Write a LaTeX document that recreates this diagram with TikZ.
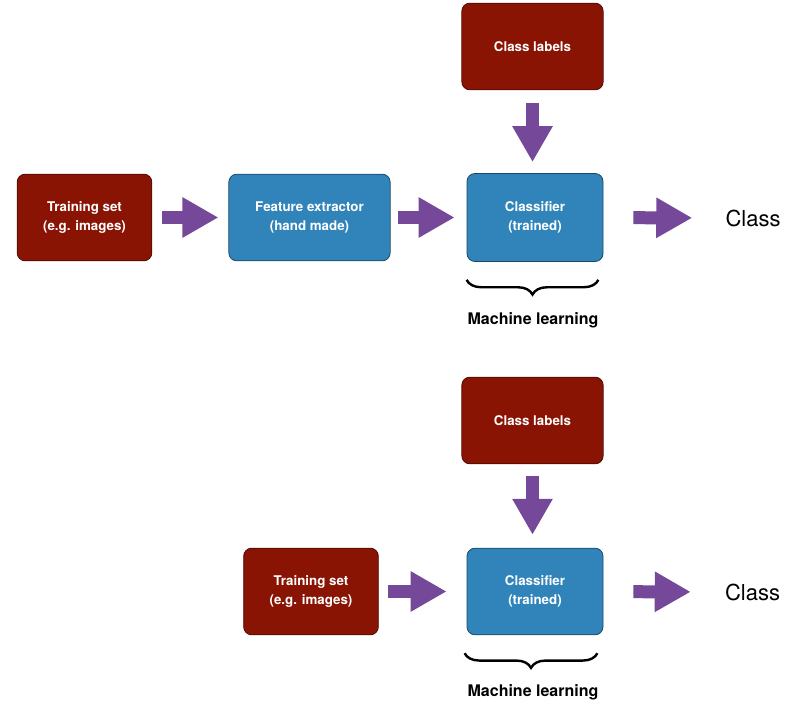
\documentclass[tikz,border=0pt]{standalone}
\usepackage{fontspec}
\setmainfont{TeX Gyre Heros}
\usepackage{xcolor}
\usepackage{tikz}
\usetikzlibrary{arrows.meta,decorations.pathreplacing}

\definecolor{boxred}{RGB}{138,20,4}
\definecolor{boxblue}{RGB}{48,132,186}
\definecolor{arrowpurple}{RGB}{117,72,153}

\begin{document}
\begin{tikzpicture}[
    x=0.75pt, y=-0.75pt,
    font=\fontsize{10}{14}\selectfont\bfseries,
    block/.style={draw=#1!55!black, rounded corners=6pt, fill=#1, text=white, align=center, minimum height=65pt, line width=0.6pt},
    block/.default=boxred,
    fatarrow/.style={draw=arrowpurple, line width=9.75pt, -{Triangle[width=28.5pt, length=27pt, fill=arrowpurple]}},
    mlbrace/.style={decorate, decoration={brace, mirror, amplitude=11pt}, line width=1.8pt},
    outlabel/.style={font=\fontsize{16.5}{19}\selectfont, inner sep=0pt},
    mllabel/.style={font=\fontsize{12}{14}\selectfont\bfseries}
  ]
    \useasboundingbox (0,0) rectangle (793,702);

    % pipeline with a hand made feature extractor
    \node[block, minimum width=101pt] (train1) at (84.5,217.5) {Training set\\(e.g. images)};
    \node[block=boxblue, minimum width=121pt] (feat1) at (309.5,217.5) {Feature extractor\\(hand made)};
    \node[block=boxblue, minimum width=102pt, minimum height=66pt] (clf1) at (535,217.5) {Classifier\\(trained)};
    \node[block, minimum width=106pt] (lab1) at (532.5,46.5) {Class labels};
    \node[outlabel] (cls1) at (753,218) {Class};
    \node[mllabel] (ml1) at (533,320) {Machine learning};

    \draw[fatarrow, shorten <=7.5pt, shorten >=7.5pt] (train1) -- (feat1);
    \draw[fatarrow, shorten <=5.5pt, shorten >=9pt] (feat1) -- (clf1);
    \draw[fatarrow, shorten <=9.75pt, shorten >=8.25pt] (lab1.south) -- (lab1.south |- clf1.north);
    \draw[fatarrow, shorten <=22.5pt, shorten >=24.75pt] (clf1) -- (cls1);
    \draw[mlbrace] ([yshift=-13.5pt]clf1.south west) -- ([xshift=-3.75pt, yshift=-13.5pt]clf1.south east);

    % pipeline where the classifier gets the images directly
    \node[block, minimum width=101pt] (train2) at (311,591.5) {Training set\\(e.g. images)};
    \node[block=boxblue, minimum width=102pt] (clf2) at (535,591.5) {Classifier\\(trained)};
    \node[block, minimum width=106pt] (lab2) at (532.5,420.5) {Class labels};
    \node[outlabel] (cls2) at (752.5,592) {Class};
    \node[mllabel] (ml2) at (533,692) {Machine learning};

    \draw[fatarrow, shorten <=6.75pt, shorten >=15pt] (train2) -- (clf2);
    \draw[fatarrow, shorten <=9pt, shorten >=9.75pt] (lab2.south) -- (lab2.south |- clf2.north);
    \draw[fatarrow, shorten <=22.5pt, shorten >=25.5pt] (clf2) -- (cls2);
    \draw[mlbrace] ([xshift=-1.5pt, yshift=-13.5pt]clf2.south west) -- ([xshift=-4.5pt, yshift=-13.5pt]clf2.south east);
  \end{tikzpicture}
\end{document}
